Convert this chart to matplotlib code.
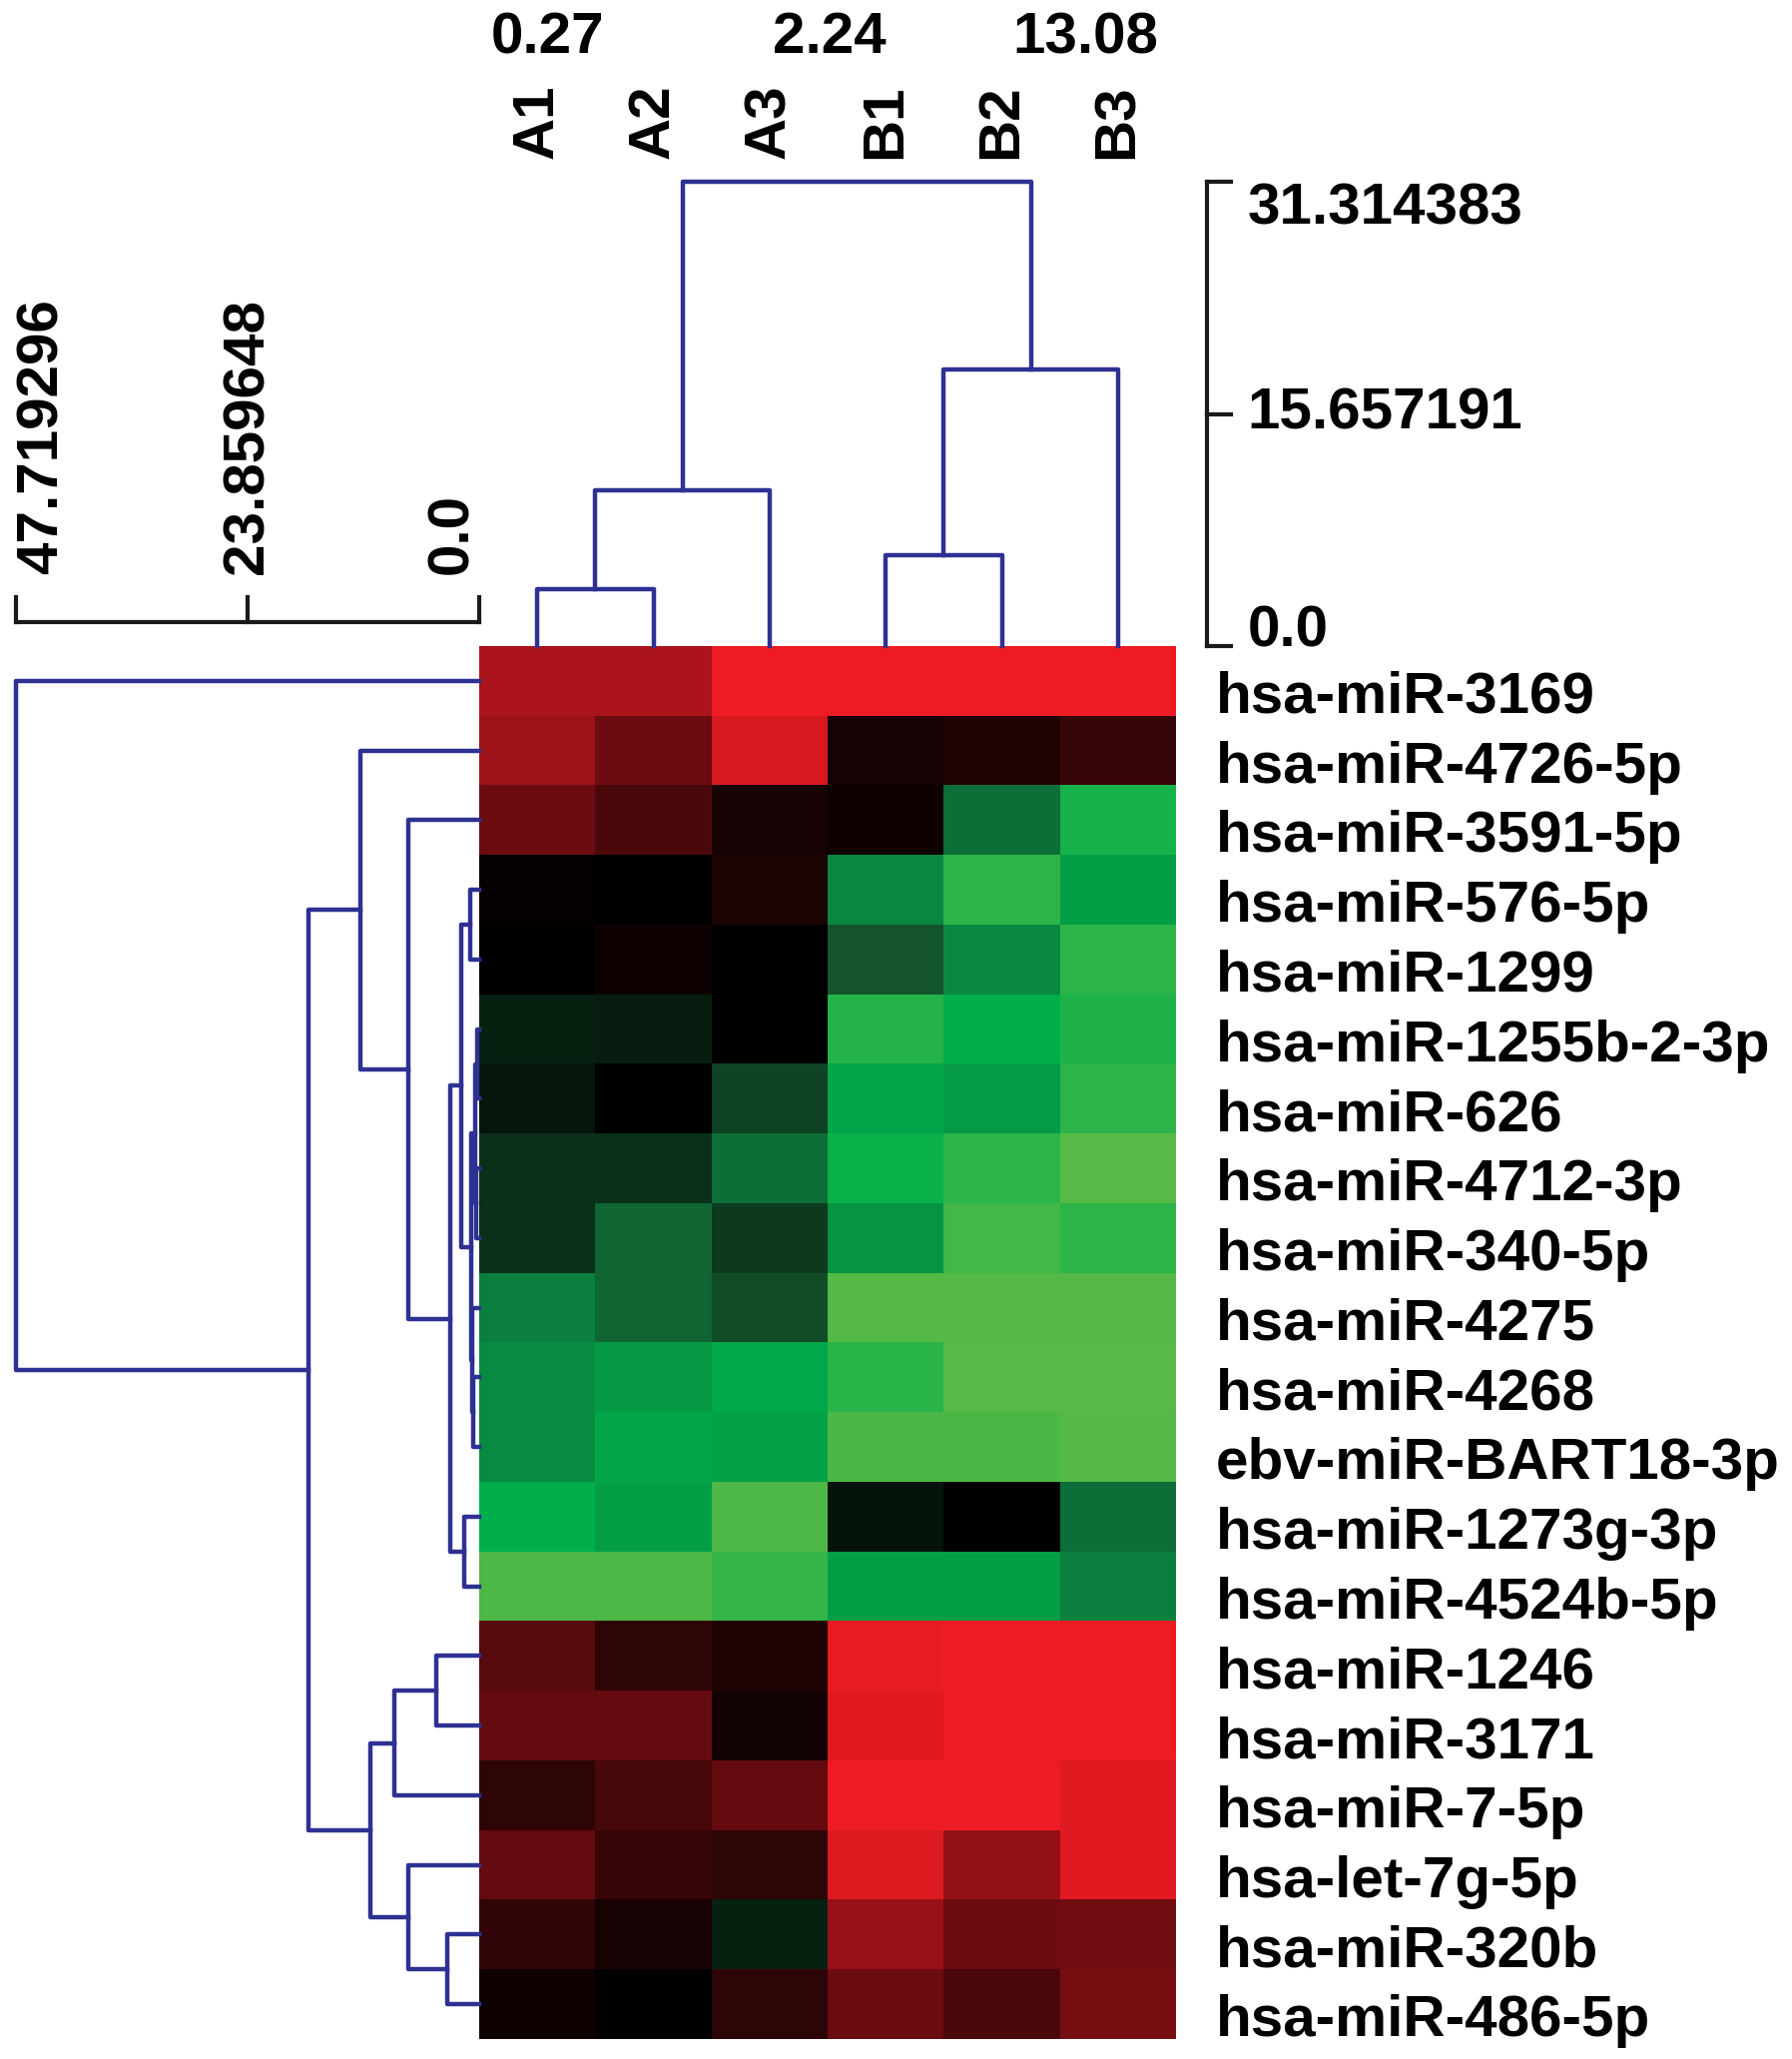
import numpy as np
import matplotlib.pyplot as plt
from matplotlib.colors import LinearSegmentedColormap
from matplotlib import transforms

plt.rcParams['font.family'] = ['Liberation Sans', 'DejaVu Sans']
plt.rcParams['font.weight'] = 'bold'

samples = ['A1', 'A2', 'A3', 'B1', 'B2', 'B3']
mirnas = ['hsa-miR-3169', 'hsa-miR-4726-5p', 'hsa-miR-3591-5p', 'hsa-miR-576-5p',
          'hsa-miR-1299', 'hsa-miR-1255b-2-3p', 'hsa-miR-626', 'hsa-miR-4712-3p',
          'hsa-miR-340-5p', 'hsa-miR-4275', 'hsa-miR-4268', 'ebv-miR-BART18-3p',
          'hsa-miR-1273g-3p', 'hsa-miR-4524b-5p', 'hsa-miR-1246', 'hsa-miR-3171',
          'hsa-miR-7-5p', 'hsa-let-7g-5p', 'hsa-miR-320b', 'hsa-miR-486-5p']

# colour level: -1 = full green, 0 = black, 1 = full red
values = np.array([
    [0.72, 0.72, 1.00, 1.00, 1.00, 1.00],
    [0.66, 0.45, 0.90, 0.10, 0.14, 0.23],
    [0.45, 0.32, 0.10, 0.06, -0.45, -0.83],
    [0.03, 0.00, 0.12, -0.55, -0.88, -0.68],
    [0.00, 0.07, 0.00, -0.35, -0.55, -0.88],
    [-0.14, -0.12, 0.00, -0.86, -0.78, -0.85],
    [-0.10, 0.00, -0.28, -0.72, -0.66, -0.88],
    [-0.20, -0.20, -0.45, -0.80, -0.88, -0.98],
    [-0.20, -0.42, -0.24, -0.62, -0.93, -0.88],
    [-0.52, -0.42, -0.32, -0.97, -0.97, -0.97],
    [-0.57, -0.65, -0.74, -0.87, -0.98, -0.98],
    [-0.57, -0.73, -0.70, -0.95, -0.95, -0.97],
    [-0.78, -0.68, -0.96, -0.08, 0.00, -0.45],
    [-0.96, -0.96, -0.90, -0.68, -0.68, -0.52],
    [0.36, 0.19, 0.14, 0.97, 1.00, 1.00],
    [0.42, 0.42, 0.08, 0.95, 1.00, 1.00],
    [0.19, 0.30, 0.42, 1.00, 1.00, 0.95],
    [0.42, 0.23, 0.19, 0.93, 0.62, 0.95],
    [0.21, 0.10, -0.14, 0.64, 0.45, 0.47],
    [0.07, 0.00, 0.19, 0.45, 0.32, 0.50],
])

# merges (left, right, height); ids >= n are earlier merges in order
row_merges = [(5, 6, 0.2), (7, 8, 0.3), (20, 21, 0.45), (10, 11, 0.6),
              (9, 23, 0.72), (22, 24, 0.83), (3, 4, 0.93), (26, 25, 1.86),
              (12, 13, 1.55), (27, 28, 3.0), (2, 29, 7.33), (1, 30, 12.19),
              (14, 15, 4.44), (32, 16, 8.78), (18, 19, 3.31), (17, 34, 7.33),
              (33, 35, 11.16), (31, 36, 17.56), (0, 37, 47.719296)]
col_merges = [(0, 1, 3.86), (6, 2, 10.48), (3, 4, 6.1), (8, 5, 18.67),
              (7, 9, 31.314383)]

row_scale = [47.719296, 23.859648, 0.0]
row_scale_txt = ['47.719296', '23.859648', '0.0']
col_scale = [31.314383, 15.657191, 0.0]
col_scale_txt = ['31.314383', '15.657191', '0.0']
top_numbers = ['0.27', '2.24', '13.08']

W, H = 1795, 2062
fig = plt.figure(figsize=(W / 100, H / 100), dpi=100)
fs = 42
blue = '#2e3192'


def box(x0, y0, x1, y1):
    # pixel box (top-left origin) -> figure rect
    return [x0 / W, 1 - y1 / H, (x1 - x0) / W, (y1 - y0) / H]


def tree_lines(merges, n):
    pos = {i: i + 0.5 for i in range(n)}
    hgt = {i: 0.0 for i in range(n)}
    segs = []
    for k, (a, b, h) in enumerate(merges):
        segs.append(([hgt[a], h, h, hgt[b]], [pos[a], pos[a], pos[b], pos[b]]))
        pos[n + k] = (pos[a] + pos[b]) / 2
        hgt[n + k] = h
    return segs


cmap = LinearSegmentedColormap.from_list('gkr', [
    (0.0, (95/255, 187/255, 70/255)),
    (0.11, (0/255, 175/255, 75/255)),
    (0.225, (10/255, 135/255, 65/255)),
    (0.325, (20/255, 85/255, 45/255)),
    (0.5, (0, 0, 0)),
    (1.0, (237/255, 28/255, 36/255)),
])

# heatmap
hax = fig.add_axes(box(480, 647, 1178, 2042))
hax.imshow(values, cmap=cmap, vmin=-1, vmax=1, aspect='auto',
           extent=(0, len(samples), len(mirnas), 0), interpolation='nearest')
hax.set_xlim(0, len(samples))
hax.set_ylim(len(mirnas), 0)
hax.axis('off')

trow = transforms.blended_transform_factory(hax.transAxes, hax.transData)
for i, name in enumerate(mirnas):
    hax.text(1.057, i + 0.96, name, transform=trow, ha='left', va='baseline',
             fontsize=fs, fontweight='bold')

tcol = transforms.blended_transform_factory(hax.transData, fig.transFigure)
for j, s in enumerate(samples):
    fig.text(j + 0.5, 1 - 159 / H, s, transform=tcol, rotation=90,
             ha='center', va='bottom', fontsize=fs, fontweight='bold')

# row dendrogram
lax = fig.add_axes(box(16, 647, 480, 2042))
for xs, ys in tree_lines(row_merges, len(mirnas)):
    lax.plot(xs, ys, color=blue, lw=3.2, clip_on=False)
lax.set_xlim(row_scale[0], 0)
lax.set_ylim(len(mirnas), 0)
lax.axis('off')

# column dendrogram
tax = fig.add_axes(box(480, 182, 1178, 647))
for hs, ps in tree_lines(col_merges, len(samples)):
    tax.plot(ps, hs, color=blue, lw=3.2, clip_on=False)
tax.set_xlim(0, len(samples))
tax.set_ylim(0, col_scale[0])
tax.axis('off')

# column distance scale (right)
sax = fig.add_axes(box(1209, 182, 1233, 647))
sax.plot([0, 0], [0, col_scale[0]], color='#1a1a1a', lw=3, clip_on=False)
vas = ['top', 'center', 'baseline']
for t, lab, va in zip(col_scale, col_scale_txt, vas):
    sax.plot([0, 1], [t, t], color='#1a1a1a', lw=3, clip_on=False)
    sax.text(1.7, t, lab, ha='left', va=va, fontsize=fs, fontweight='bold')
sax.set_xlim(0, 1)
sax.set_ylim(0, col_scale[0])
sax.axis('off')

# row distance scale (top left)
bax = fig.add_axes(box(16, 598, 480, 623))
bax.plot([row_scale[0], 0], [0, 0], color='#1a1a1a', lw=3, clip_on=False)
has = ['left', 'center', 'right']
for t, lab, ha in zip(row_scale, row_scale_txt, has):
    bax.plot([t, t], [0, 1], color='#1a1a1a', lw=3, clip_on=False)
    bax.text(t, 1.92, lab, rotation=90, ha=ha, va='bottom', fontsize=fs,
             fontweight='bold')
bax.set_xlim(row_scale[0], 0)
bax.set_ylim(0, 1)
bax.axis('off')

# numbers across the top
for x, lab in zip([549, 831, 1087], top_numbers):
    fig.text(x / W, 1 - 53 / H, lab, ha='center', va='baseline', fontsize=fs,
             fontweight='bold')

fig.savefig('out.png', dpi=100)
